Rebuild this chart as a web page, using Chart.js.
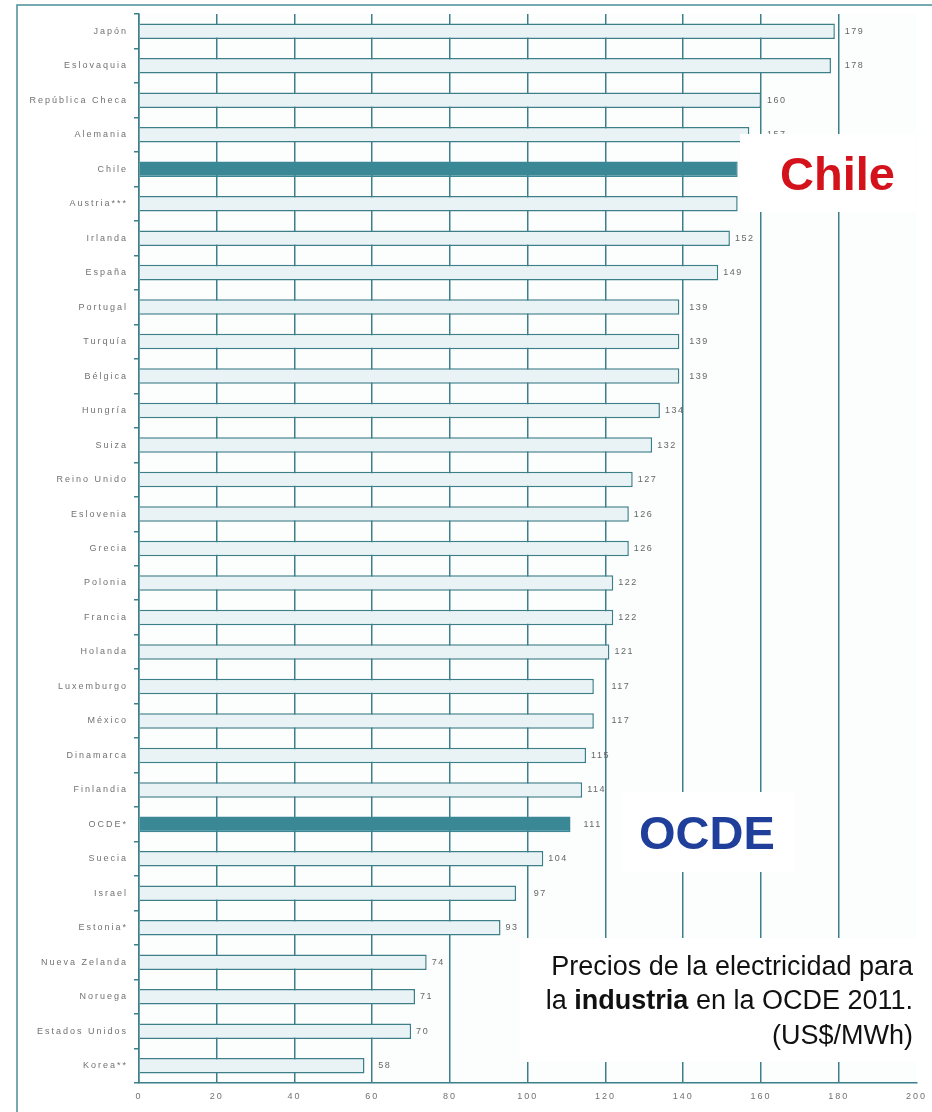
<!DOCTYPE html>
<html lang="es">
<head>
<meta charset="utf-8">
<title>Precios de la electricidad para la industria en la OCDE 2011</title>
<script src="https://cdn.jsdelivr.net/npm/chart.js@4"></script>
<style>
  body { margin: 0; background: #fff; }
  canvas { display: block; }
</style>
</head>
<body>
<canvas id="chart" width="932" height="1112"></canvas>
<script>
// Datos del gráfico (US$/MWh)
const paises = ['Japón', 'Eslovaquia', 'República Checa', 'Alemania', 'Chile', 'Austria***',
  'Irlanda', 'España', 'Portugal', 'Turquía', 'Bélgica', 'Hungría', 'Suiza', 'Reino Unido',
  'Eslovenia', 'Grecia', 'Polonia', 'Francia', 'Holanda', 'Luxemburgo', 'México', 'Dinamarca',
  'Finlandia', 'OCDE*', 'Suecia', 'Israel', 'Estonia*', 'Nueva Zelanda', 'Noruega',
  'Estados Unidos', 'Korea**'];
const precios = [179, 178, 160, 157, 154, 154, 152, 149, 139, 139, 139, 134, 132, 127, 126, 126,
  122, 122, 121, 117, 117, 115, 114, 111, 104, 97, 93, 74, 71, 70, 58];
const destacados = ['Chile', 'OCDE*'];
const ejeMin = 0;
const ejeMax = 200;
const ejePaso = 20;

const TEAL = '#3d7f89';
const FUENTE = '"Liberation Sans", Arial, sans-serif';

// Decoración: fondo, marco, etiquetas de valor y textos
const decoracion = {
  id: 'decoracion',
  beforeDraw(chart) {
    const ctx = chart.ctx;
    const a = chart.chartArea;
    ctx.fillStyle = '#ffffff';
    ctx.fillRect(0, 0, chart.width, chart.height);
    ctx.fillStyle = '#fcfefe';
    ctx.fillRect(a.left, a.top, a.right - a.left, a.bottom - a.top);
    // marco
    ctx.strokeStyle = '#4a8d97';
    ctx.lineWidth = 1.5;
    ctx.beginPath();
    ctx.moveTo(17, chart.height);
    ctx.lineTo(17, 5);
    ctx.lineTo(chart.width, 5);
    ctx.stroke();
    ctx.letterSpacing = '2px';
  },
  afterDatasetsDraw(chart) {
    const ctx = chart.ctx;
    const x = chart.scales.x;
    const meta = chart.getDatasetMeta(0);
    const grid = [];
    for (let v = ejeMin + ejePaso; v < ejeMax; v += ejePaso) grid.push(x.getPixelForValue(v));
    ctx.save();
    ctx.letterSpacing = '1.5px';
    ctx.font = '9px ' + FUENTE;
    ctx.fillStyle = '#666';
    ctx.textBaseline = 'middle';
    meta.data.forEach((bar, i) => {
      let lx = bar.x + (destacados.includes(paises[i]) ? 13 : 5);
      // si la etiqueta cae sobre una línea de la grilla, se corre a la derecha
      grid.forEach(g => {
        if (g >= bar.x - 1 && g <= bar.x + 13) lx = g + 6;
      });
      ctx.fillText(String(precios[i]), lx, bar.y);
    });
    ctx.restore();
  },
  afterDraw(chart) {
    const ctx = chart.ctx;
    ctx.save();
    ctx.letterSpacing = '0px';
    ctx.fillStyle = '#ffffff';
    ctx.fillRect(740, 134, 175, 78);   // caja Chile
    ctx.fillRect(622, 792, 173, 80);   // caja OCDE
    ctx.fillRect(520, 938, 405, 124);  // caja título

    ctx.textBaseline = 'alphabetic';
    ctx.font = 'bold 47px ' + FUENTE;
    ctx.fillStyle = '#d3121b';
    ctx.fillText('Chile', 780, 190);
    ctx.fillStyle = '#1f3f9b';
    ctx.fillText('OCDE', 639, 849);

    // título alineado a la derecha
    const derecha = 913;
    const normal = '27px ' + FUENTE;
    const negrita = 'bold 27px ' + FUENTE;
    ctx.fillStyle = '#111';
    ctx.textAlign = 'right';
    ctx.font = normal;
    ctx.fillText('Precios de la electricidad para', derecha, 975);
    ctx.fillText('(US$/MWh)', derecha, 1044);

    const partes = [['la ', normal], ['industria', negrita], [' en la OCDE 2011.', normal]];
    let total = 0;
    partes.forEach(p => { ctx.font = p[1]; total += ctx.measureText(p[0]).width; });
    ctx.textAlign = 'left';
    let px = derecha - total;
    partes.forEach(p => {
      ctx.font = p[1];
      ctx.fillText(p[0], px, 1009);
      px += ctx.measureText(p[0]).width;
    });
    ctx.restore();
  }
};

new Chart(document.getElementById('chart'), {
  type: 'bar',
  data: {
    labels: paises,
    datasets: [{
      data: precios,
      backgroundColor: ctx => destacados.includes(paises[ctx.dataIndex]) ? '#3a8796' : '#e9f3f5',
      borderColor: ctx => destacados.includes(paises[ctx.dataIndex]) ? '#3a8796' : TEAL,
      borderWidth: 1.5,
      categoryPercentage: 1,
      barPercentage: 0.45
    }]
  },
  options: {
    indexAxis: 'y',
    responsive: false,
    animation: false,
    layout: { padding: { left: 0, top: 14, right: 15, bottom: 0 } },
    plugins: {
      legend: { display: false },
      tooltip: { enabled: false }
    },
    scales: {
      x: {
        min: ejeMin,
        max: ejeMax,
        afterFit: scale => { scale.height = 29; },
        ticks: {
          stepSize: ejePaso,
          padding: 8,
          color: '#727272',
          font: { family: FUENTE, size: 9 }
        },
        grid: {
          color: ctx => (ctx.tick && ctx.tick.value === ejeMax) ? 'rgba(0,0,0,0)' : TEAL,
          lineWidth: 1.5,
          drawTicks: false
        },
        border: { color: TEAL, width: 1.5 }
      },
      y: {
        afterFit: scale => { scale.width = 139; },
        ticks: {
          padding: 6,
          color: '#727272',
          font: { family: FUENTE, size: 9 }
        },
        grid: {
          drawOnChartArea: false,
          tickLength: 5,
          color: TEAL,
          lineWidth: 1.5
        },
        border: { color: TEAL, width: 1.5 }
      }
    }
  },
  plugins: [decoracion]
});
</script>
</body>
</html>
